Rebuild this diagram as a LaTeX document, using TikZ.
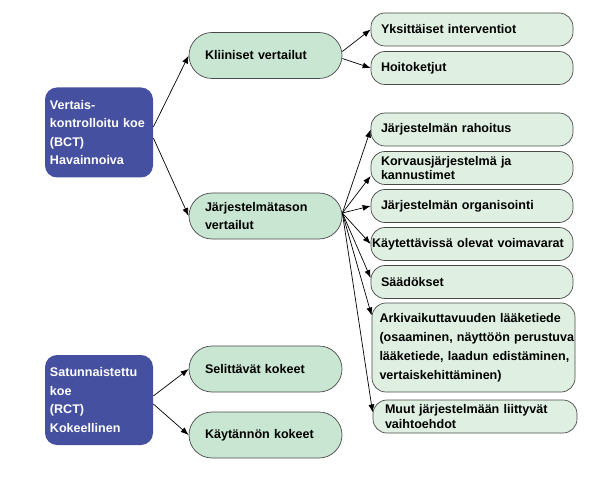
\documentclass[tikz,border=0pt]{standalone}
\usepackage{fontspec}
\setmainfont{Liberation Sans}
\usetikzlibrary{arrows.meta}
\definecolor{kokeblue}{HTML}{4550A0}
\definecolor{tasogreen}{HTML}{C8E6D2}
\definecolor{osagreen}{HTML}{DFF0E2}
\definecolor{reuna}{HTML}{4A4A4A}
\hyphenpenalty=10000
\exhyphenpenalty=10000
\begin{document}
\begin{tikzpicture}[x=1bp,y=-1bp,line width=0.7bp,>={Latex[length=8bp,width=6bp]},
    koe/.style={rectangle,fill=kokeblue,rounded corners=12bp,text=white,align=left,
        font=\bfseries\fontsize{12.6}{18.5}\selectfont,text width=98bp,inner xsep=5bp,minimum height=90bp},
    taso/.style={rectangle,draw=reuna,fill=tasogreen,rounded corners=23bp,align=left,
        font=\bfseries\fontsize{12.6}{18}\selectfont,text width=121bp,inner xsep=16bp,minimum height=46bp},
    osa/.style={rectangle,draw=reuna,fill=osagreen,rounded corners=14bp,align=left,
        font=\bfseries\fontsize{12.6}{15}\selectfont,text width=182bp,inner xsep=10bp,minimum height=33bp}
]
\useasboundingbox (0,0) rectangle (613,481);

\node[koe]  (BCT) at (99,132.5)   {Vertais-\\\mbox{kontrolloitu koe}\\(BCT)\\Havainnoiva};
\node[koe]  (RCT) at (99,400)     {Satunnaistettu\\koe\\(RCT)\\Kokeellinen};
\node[taso] (KV)  at (265.5,55.5) {Kliiniset vertailut};
\node[taso] (JV)  at (265.5,216)  {Järjestelmätason\\vertailut};
\node[taso] (SK)  at (265.5,369)  {Selittävät kokeet};
\node[taso] (KK)  at (265.5,435)  {Käytännön kokeet};

\node[osa] (YI)  at (472,29.5)  {Yksittäiset interventiot};
\node[osa] (HK)  at (472,68)    {Hoitoketjut};
\node[osa] (RAH) at (472,129.5) {Järjestelmän rahoitus};
\node[osa] (KOR) at (472,168)   {Korvausjärjestelmä ja\\kannustimet};
\node[osa] (ORG) at (472,206)   {Järjestelmän organisointi};
\node[osa,text width=200bp,inner xsep=1bp]
           (VOI) at (472,244)   {\mbox{Käytettävissä olevat voimavarat}};
\node[osa] (SAA) at (472,282)   {Säädökset};
\node[osa,text width=188bp,inner xsep=7.5bp,minimum height=89bp,
      font=\bfseries\fontsize{12.6}{19}\selectfont]
           (ARK) at (473.5,347.5) {Arkivaikuttavuuden lääketiede\\\mbox{(osaaminen, näyttöön perustuva}\\\mbox{lääketiede, laadun edistäminen,}\\vertaiskehittäminen)};
\node[osa,inner xsep=12bp,text width=180bp,font=\bfseries\fontsize{12.6}{14.5}\selectfont]
           (MUU) at (475,416.5) {Muut järjestelmään liittyvät\\vaihtoehdot};

\draw[->] ([yshift=5.5bp]BCT.east) -- (KV.west);
\draw[->] ([yshift=-5.5bp]BCT.east) -- (JV.west);
\draw[->] ([yshift=4bp]KV.east) -- (YI.west);
\draw[->] ([yshift=-3bp]KV.east) -- (HK.west);
\draw[->] ([yshift=3bp]JV.east) -- (RAH.west);
\draw[->] ([yshift=3bp]JV.east) -- ([yshift=-8bp]KOR.west);
\draw[->] ([yshift=3bp]JV.east) -- (ORG.west);
\draw[->] ([yshift=3bp]JV.east) -- (VOI.west);
\draw[->] ([yshift=3bp]JV.east) -- ([yshift=4bp]SAA.west);
\draw[->] ([yshift=3bp]JV.east) -- ([yshift=32bp]ARK.west);
\draw[->] ([yshift=3bp]JV.east) -- ([yshift=4bp]MUU.west);
\draw[->] ([yshift=4bp]RCT.east) -- (SK.west);
\draw[->] ([yshift=-4bp]RCT.east) -- (KK.west);
\end{tikzpicture}
\end{document}
